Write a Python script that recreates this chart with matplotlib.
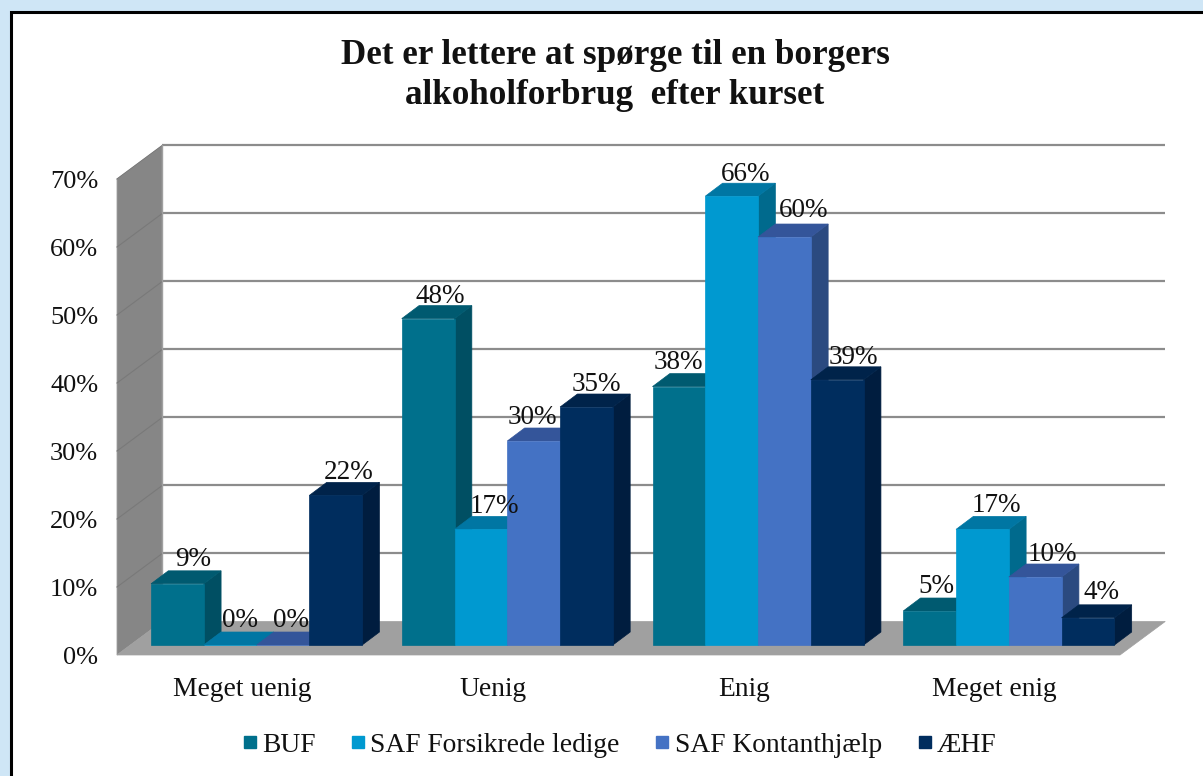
import numpy as np
import matplotlib
matplotlib.use('Agg')
import matplotlib.pyplot as plt
from matplotlib.lines import Line2D
from matplotlib.patches import Polygon, Rectangle
from matplotlib.transforms import ScaledTranslation

plt.rcParams['font.family'] = ['Liberation Serif', 'DejaVu Serif']

categories = ['Meget uenig', 'Uenig', 'Enig', 'Meget enig']
series_names = ['BUF', 'SAF Forsikrede ledige', 'SAF Kontanthjælp', 'ÆHF']
buf = [9, 48, 38, 5]
saf_ledige = [0, 17, 66, 17]
saf_kontant = [0, 30, 60, 10]
aehf = [22, 35, 39, 4]
y_ticks = [0, 10, 20, 30, 40, 50, 60, 70]

front_colors = ['#00708c', '#0099d0', '#4472c4', '#002d5e']
top_colors = ['#005a70', '#0076a3', '#34559a', '#00234a']
side_colors = ['#004f63', '#006a8d', '#2b4a80', '#001d3f']

# hand placed value labels in the original: nudge per label in pixels, [series][category]
nudge_x = [[2, -2, -15, -7], [-4, -1, 0, 0], [-6, -15, 5, 3], [-1, -4, 2, -1]]
nudge_y = [[-1, 1, -1, -2], [-2, 0, 1, -1], [-2, -1, -4, 0], [0, 0, 1, -2]]

W, H = 1203, 776
# plot box in pixels of the image
LEFT, RIGHT, TOP, BOTTOM = 117, 1120, 179, 655

# depth of the fake 3d box and the bars, in axis units
wall_dx, wall_dy = 0.1805, 4.93
bar_off_y = 1.47
bar_dx, bar_dy = 0.069, 1.91
bar_w = 0.2105
group_left = 0.1356


def parallelogram(x0, x1, y0, y1, dx, dy, color, z):
    return Polygon([(x0, y0), (x1, y1), (x1 + dx, y1 + dy), (x0 + dx, y0 + dy)],
                   closed=True, facecolor=color, edgecolor=color, lw=0.5,
                   clip_on=False, zorder=z)


fig = plt.figure(figsize=(W / 100, H / 100), dpi=100, facecolor='#cfe6f6')
fig.add_artist(Rectangle((11 / W, -0.05), 1.1, 1 + 0.05 - 12 / H, transform=fig.transFigure,
                         facecolor='white', edgecolor='black', lw=2.2, zorder=-1))

ax = fig.add_axes([LEFT / W, 1 - BOTTOM / H, (RIGHT - LEFT) / W, (BOTTOM - TOP) / H])
ax.set_xlim(0, len(categories))
ax.set_ylim(0, 70)
ax.patch.set_alpha(0)
for s in ax.spines.values():
    s.set_visible(False)

# left wall and floor
ax.add_patch(Polygon([(0, 0), (wall_dx, wall_dy), (wall_dx, 70 + wall_dy), (0, 70)],
                     facecolor='#868686', edgecolor='#a0a0a0', lw=0.6, clip_on=False, zorder=1))
ax.add_patch(Polygon([(0, 0), (4, 0), (4 + wall_dx, wall_dy), (wall_dx, wall_dy)],
                     facecolor='#a0a0a0', edgecolor='#a0a0a0', lw=0.5, clip_on=False, zorder=1))

# gridlines on back wall, and their diagonal on the left wall
for t in y_ticks:
    if t > 0:
        ax.plot([wall_dx, 4 + wall_dx], [t + wall_dy, t + wall_dy], color='#8c8c8c', lw=1.6,
                clip_on=False, zorder=2, solid_capstyle='butt')
        ax.plot([0, wall_dx], [t, t + wall_dy], color='#797979', lw=0.8,
                clip_on=False, zorder=2)
ax.plot([wall_dx, wall_dx], [wall_dy, 70 + wall_dy], color='#a0a0a0', lw=1, clip_on=False, zorder=2)

all_series = [buf, saf_ledige, saf_kontant, aehf]
z = 3
for c in range(len(categories)):
    for i, values in enumerate(all_series):
        v = values[c]
        x0 = c + group_left + i * bar_w
        x1 = x0 + bar_w
        b = bar_off_y
        ax.add_patch(parallelogram(x1, x1, b, b + v, bar_dx, bar_dy, side_colors[i], z))
        ax.add_patch(parallelogram(x0, x1, b + v, b + v, bar_dx, bar_dy, top_colors[i], z))
        ax.bar(x0, v, width=bar_w, bottom=b, align='edge', color=front_colors[i],
               edgecolor=front_colors[i], lw=0.5, clip_on=False, zorder=z)
        z += 1

# value labels go on top of every bar
for c in range(len(categories)):
    for i, values in enumerate(all_series):
        v = values[c]
        x = c + group_left + (i + 0.5) * bar_w + 0.056
        y = v + bar_off_y + bar_dy + 1.45
        ax.annotate(f'{v}%', (x, y), xytext=(nudge_x[i][c] * 0.72, -nudge_y[i][c] * 0.72),
                    textcoords='offset points', ha='center', va='center', fontsize=19.5,
                    color='#111111', zorder=100, annotation_clip=False)

ax.set_xticks(np.arange(len(categories)) + 0.5)
ax.set_xticklabels(categories, fontsize=19.8, color='#111111')
ax.set_yticks(y_ticks)
ax.set_yticklabels([f'{t}%' for t in y_ticks], fontsize=19, color='#111111')
ax.tick_params(axis='x', length=0, pad=15.5)
ax.tick_params(axis='y', length=0, pad=13.5)
shift = ScaledTranslation(0, -1 / 100, fig.dpi_scale_trans)
for lab in ax.get_yticklabels():
    lab.set_transform(lab.get_transform() + shift)

fig.text(615 / W, 1 - 76 / H, 'Det er lettere at spørge til en borgers\nalkoholforbrug  efter kurset',
         ha='center', va='center', fontsize=25.2, fontweight='bold', color='#111111', linespacing=1.28)

handles = [Line2D([], [], marker='s', ls='none', ms=9, color=col) for col in front_colors]
fig.legend(handles, series_names, loc='center', bbox_to_anchor=(619 / W, 1 - 745 / H), ncol=4,
           frameon=False, fontsize=19.8, handlelength=0.6, handletextpad=0.15, columnspacing=1.25,
           labelcolor='#111111')

fig.savefig('out.png', dpi=100, facecolor=fig.get_facecolor())
